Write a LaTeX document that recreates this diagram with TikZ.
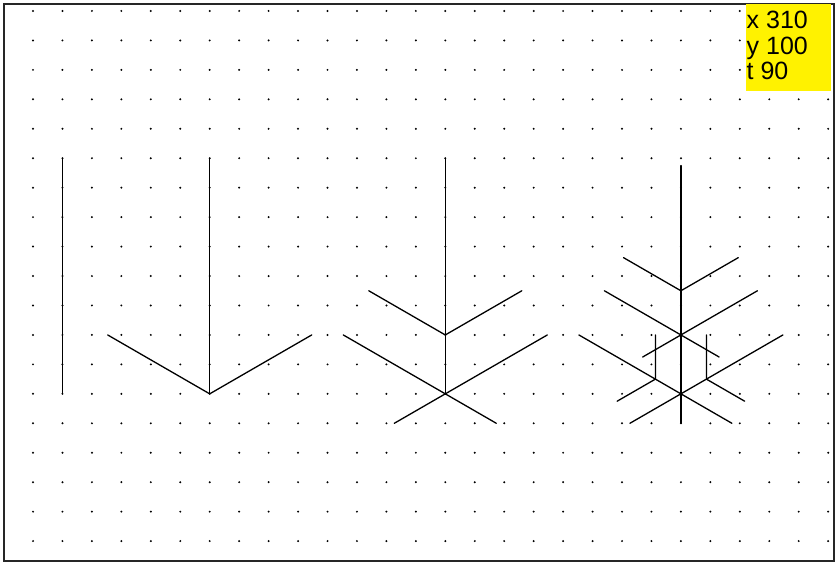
\documentclass[tikz,border=0pt]{standalone}
\usepackage{fontspec}
\setsansfont{Liberation Sans}
\tikzset{
    stem/.style={line width=1.3pt, line cap=round},
    readout/.style={anchor=base west, inner sep=0pt, font=\sffamily\fontsize{25}{26}\selectfont},
}
\begin{document}
\begin{tikzpicture}[x=1pt,y=1pt]
\useasboundingbox (0,0) rectangle (838,565);
\foreach \i in {0,...,27}
  \foreach \j in {0,...,18}
    \fill (33+29.45*\i,554-29.45*\j) circle (1.1pt);
\draw[line width=1.6pt, black!85] (4,4) rectangle (834,561);

% first: plain stem
\begin{scope}[shift={(62.45,171.15)}, x=29.45pt, y=29.45pt]
\draw[stem] (0,0) -- (0,8);
\end{scope}

% second
\begin{scope}[shift={(209.7,171.15)}, x=29.45pt, y=29.45pt]
\draw[stem] (0,0) -- (0,8);
\draw[stem] (150:4) -- (0,0) -- (30:4);
\end{scope}

% third
\begin{scope}[shift={(445.3,171.15)}, x=29.45pt, y=29.45pt]
\draw[stem] (0,0) -- (0,8);
\draw[stem] (150:4) -- (330:2);
\draw[stem] (30:4) -- (210:2);
\draw[stem] (0,2) ++(150:3) -- (0,2) -- ++(30:3);
\end{scope}

% fourth
\begin{scope}[shift={(680.9,171.15)}, x=29.45pt, y=29.45pt]
\draw[stem] (0,-1) -- (0,7.75);
\draw[stem] (150:4) -- (330:2);
\draw[stem] (30:4) -- (210:2);
\draw[stem] (0,2) ++(150:3) -- ++(330:4.5);
\draw[stem] (0,2) ++(30:3) -- ++(210:4.5);
\draw[stem] (0,3.5) ++(150:2.25) -- (0,3.5) -- ++(30:2.25);
\draw[stem] (150:1) ++(0,1.5) -- (150:1) -- ++(210:1.5);
\draw[stem] (30:1) ++(0,1.5) -- (30:1) -- ++(330:1.5);
\end{scope}

\fill[yellow] (746,474) rectangle (831,561);
\node[readout] (xval) at (746.5,536) {x 310};
\node[readout] (yval) at (746.5,510.5) {y 100};
\node[readout] (tval) at (746.5,485) {t 90};
\end{tikzpicture}
\end{document}
